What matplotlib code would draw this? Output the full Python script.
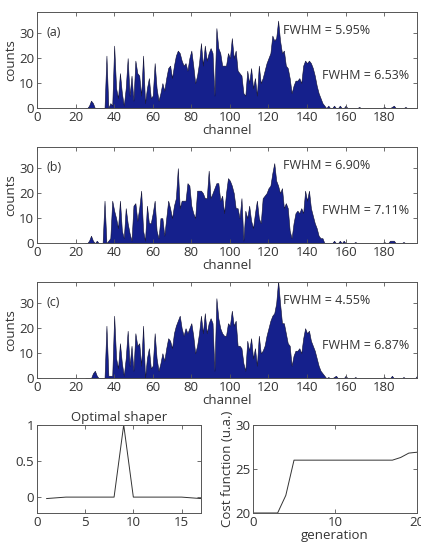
import numpy as np
import matplotlib
matplotlib.use("Agg")
import matplotlib.pyplot as plt

plt.rcParams['font.family'] = ['Open Sans', 'DejaVu Sans']
plt.rcParams['font.size'] = 9

# spectra: counts per channel, starting at channel 25
ch_start = 25
counts_a = [0, 0, 1, 3, 2, 0, 0, 0, 0, 0, 0, 21, 0, 2, 1,            # 25-39
            25, 8, 4, 14, 6, 1, 8, 20, 5, 13, 3, 19, 14, 13, 5,      # 40-54
            21, 2, 8, 12, 4, 5, 18, 8, 3, 6, 10, 7, 12, 16, 17,      # 55-69
            12, 17, 21, 23, 22, 19, 17, 18, 15, 20, 23, 17, 10, 13, 18,  # 70-84
            26, 17, 25, 19, 22, 24, 22, 5, 32, 24, 22, 17, 17, 17, 22,   # 85-99
            20, 28, 20, 23, 15, 14, 13, 6, 5, 15, 10, 16, 8, 12, 5,      # 100-114
            17, 10, 12, 15, 18, 20, 22, 29, 27, 28, 35, 27, 22, 23, 17,  # 115-129
            16, 12, 6, 9, 11, 11, 12, 10, 17, 19, 18, 19, 18, 16, 13,    # 130-144
            9, 6, 4, 2, 1, 0, 1, 0, 0, 1, 0, 0, 1, 0, 0,                 # 145-159
            1, 0, 0, 0, 0, 0, 0, 0.5, 0, 0, 0, 0, 0, 0, 0,               # 160-174
            0, 0, 0, 0, 0, 0.5, 0, 0, 0, 0.5, 1, 0, 0, 0, 0,             # 175-189
            0, 0.5, 0, 0, 0, 0, 0, 0]                                    # 190-197
counts_b = [0, 0, 1, 3, 1, 0, 1, 0, 0, 0, 17, 0, 1, 2, 17,           # 25-39
            13, 10, 6, 17, 5, 2, 14, 8, 4, 1, 15, 16, 9, 14, 21,     # 40-54
            5, 1, 15, 8, 8, 12, 17, 5, 2, 10, 10, 3, 10, 17, 14,     # 55-69
            10, 15, 18, 30, 14, 17, 17, 17, 24, 23, 15, 12, 10, 21, 21,  # 70-84
            21, 20, 18, 18, 29, 18, 20, 22, 24, 24, 17, 19, 12, 20, 26,  # 85-99
            25, 23, 20, 14, 14, 10, 18, 1, 13, 10, 15, 9, 6, 12, 17,     # 100-114
            10, 8, 18, 19, 20, 22, 23, 28, 32, 25, 23, 20, 22, 14, 16,   # 115-129
            14, 5, 2, 8, 12, 13, 12, 14, 12, 21, 17, 21, 14, 11, 8,      # 130-144
            6, 3, 2, 2, 0, 0, 0, 0, 0, 1, 0, 0, 1, 0, 1,                 # 145-159
            0, 0, 0, 0, 0, 0.5, 0, 0, 0, 0, 0, 0, 0, 0, 0,               # 160-174
            0, 0, 0, 0, 0, 0.5, 0, 0, 1, 1, 1, 0, 0, 0, 0,               # 175-189
            0.5, 0, 0, 0, 0, 0, 0, 0]                                    # 190-197
counts_c = [0, 0, 0, 0, 2, 3, 1, 0, 0, 0, 0, 21, 1, 1, 1,            # 25-39
            25, 8, 4, 14, 6, 1, 8, 19, 5, 13, 3, 18, 13, 14, 5,      # 40-54
            21, 0, 8, 12, 4, 5, 18, 8, 3, 6, 10, 7, 12, 16, 15,      # 55-69
            12, 18, 21, 23, 25, 20, 17, 20, 18, 20, 22, 17, 10, 13, 18,  # 70-84
            25, 18, 26, 18, 22, 24, 22, 3, 32, 24, 20, 18, 17, 17, 22,   # 85-99
            21, 27, 21, 23, 13, 13, 12, 6, 3, 15, 11, 16, 8, 12, 5,      # 100-114
            17, 10, 11, 13, 17, 20, 23, 25, 26, 30, 39, 30, 22, 22, 18,  # 115-129
            14, 13, 5, 9, 11, 11, 12, 10, 16, 20, 18, 19, 15, 13, 11,    # 130-144
            8, 5, 3, 2, 1, 0, 0.5, 0, 0, 0.5, 1, 0, 0, 0, 0,             # 145-159
            1, 0, 0, 0, 0, 0.5, 0, 0, 0, 0, 0, 0, 0, 0, 0,               # 160-174
            0, 0, 0, 0, 0, 0.5, 0, 0, 0, 1, 0, 0, 0, 0, 0,               # 175-189
            0.5, 0, 0, 0, 0, 0, 0, 1]                                    # 190-197

labels = ['(a)', '(b)', '(c)']
fwhm_main = ['FWHM = 5.95%', 'FWHM = 6.90%', 'FWHM = 4.55%']
fwhm_side = ['FWHM = 6.53%', 'FWHM = 7.11%', 'FWHM = 6.87%']

# optimal shaper
shaper_x = [1, 3, 8, 9, 10, 15, 17]
shaper_y = [-0.02, 0, 0, 1, 0, 0, -0.02]

# cost function vs generation
gen = [0, 3, 4, 5, 17, 18, 19, 20]
cost = [20, 20, 22, 26, 26, 26.3, 26.8, 26.9]

fill_col = '#15208c'
txt_col = '#333333'
spine_col = '#555555'
fs = 9.5

fig = plt.figure(figsize=(4.21, 5.49), dpi=100)


def style(ax):
    for s in ax.spines.values():
        s.set_color(spine_col)
        s.set_linewidth(0.7)
    ax.tick_params(direction='in', top=True, right=True, length=3,
                   width=0.6, color=spine_col, labelcolor=txt_col,
                   labelsize=fs, pad=2)


tops = [0.978, 0.732, 0.486]
h = 0.175
for i, counts in enumerate([counts_a, counts_b, counts_c]):
    ax = fig.add_axes([0.0879, tops[i] - h, 0.9026, h])
    chan = np.arange(len(counts)) + ch_start
    ax.fill_between(chan, counts, 0, facecolor=fill_col, edgecolor='#101030',
                    linewidth=0.4)
    ax.set_xlim(0, 197)
    ax.set_ylim(0, 38.4)
    ax.set_xticks(np.arange(0, 181, 20))
    ax.set_yticks([0, 10, 20, 30])
    style(ax)
    ax.set_xlabel('channel', color=txt_col, fontsize=fs, labelpad=0)
    ax.set_ylabel('counts', color=txt_col, fontsize=fs, labelpad=1)
    ax.text(5, 30.4, labels[i], color=txt_col, fontsize=fs - 0.5, va='center')
    ax.text(127.5, 31, fwhm_main[i], color=txt_col, fontsize=fs - 0.5, va='center')
    ax.text(148, 13.2, fwhm_side[i], color=txt_col, fontsize=fs - 0.5, va='center')

ax4 = fig.add_axes([0.0879, 0.0656, 0.389, 0.1604])
ax4.plot(shaper_x, shaper_y, color='#333333', lw=0.7)
ax4.set_xlim(0, 17)
ax4.set_ylim(-0.22, 1)
ax4.set_xticks([0, 5, 10, 15])
ax4.set_yticks([0, 0.5, 1])
ax4.set_yticklabels(['0', '0.5', '1'])
style(ax4)
ax4.set_title('Optimal shaper', color=txt_col, fontsize=fs, pad=3)

ax5 = fig.add_axes([0.601, 0.0656, 0.3895, 0.1604])
ax5.plot(gen, cost, color='#333333', lw=0.7)
ax5.set_xlim(0, 20)
ax5.set_ylim(20, 30)
ax5.set_xticks([0, 10, 20])
ax5.set_yticks([20, 25, 30])
style(ax5)
ax5.set_xlabel('generation', color=txt_col, fontsize=fs, labelpad=0)
ax5.set_ylabel('Cost function (u.a.)', color=txt_col, fontsize=fs, labelpad=1)

fig.savefig('out.png', dpi=100)
